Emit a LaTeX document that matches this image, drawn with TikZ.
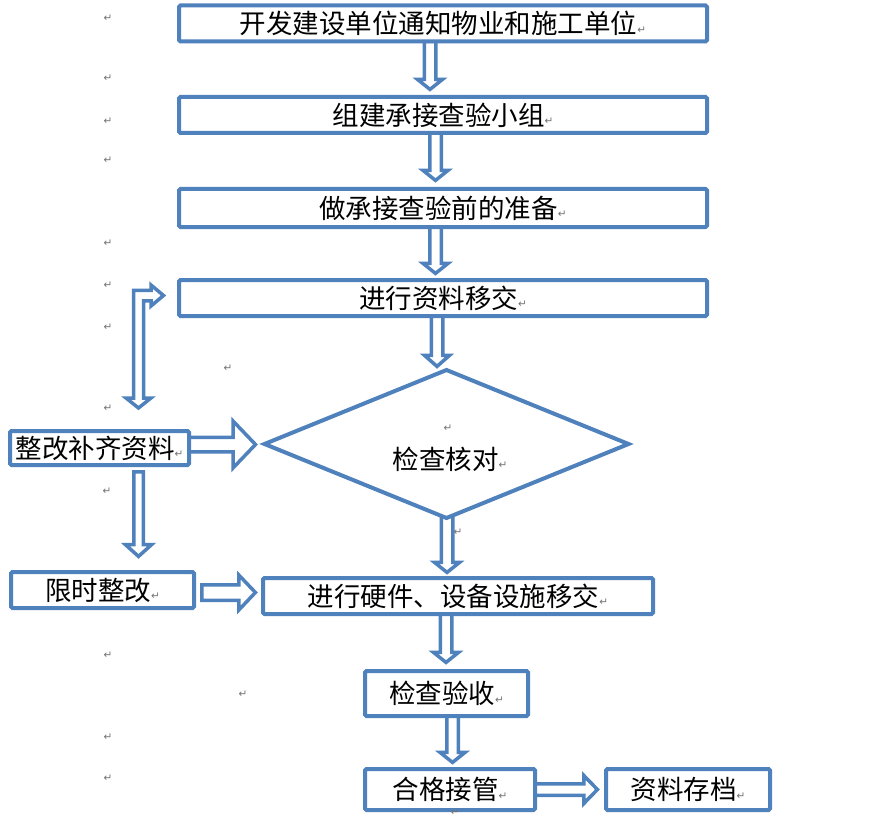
\documentclass[tikz,border=0pt]{standalone}
\usepackage{fontspec}
\newfontfamily\cjk{Noto Sans CJK SC}
\newfontfamily\symf{DejaVu Sans}
\usetikzlibrary{shapes.geometric,calc}
\definecolor{bl}{HTML}{4F81BD}
\newcommand\ret{{\symf\fontsize{10.5}{10.5}\selectfont\raisebox{0.5pt}{\textcolor{black!55}{↵}}}}
\pgfdeclarelayer{bg}\pgfsetlayers{bg,main}
% vertical block arrow: #1 start, #2 target, #3 gap, #4 shaft half, #5 head half, #6 head length
\newcommand\varr[6]{\draw[blk] let \p1=#1, \p2=#2 in
 (\x1-#4pt,\y1) -- (\x1-#4pt,\y2+#3pt+#6pt) -- (\x1-#5pt,\y2+#3pt+#6pt) -- (\x1,\y2+#3pt)
 -- (\x1+#5pt,\y2+#3pt+#6pt) -- (\x1+#4pt,\y2+#3pt+#6pt) -- (\x1+#4pt,\y1) -- cycle;}
% horizontal block arrow
\newcommand\harr[6]{\draw[blk] let \p1=#1, \p2=#2 in
 (\x1,\y1+#4pt) -- (\x2-#3pt-#6pt,\y1+#4pt) -- (\x2-#3pt-#6pt,\y1+#5pt) -- (\x2-#3pt,\y1)
 -- (\x2-#3pt-#6pt,\y1-#5pt) -- (\x2-#3pt-#6pt,\y1-#4pt) -- (\x1,\y1-#4pt) -- cycle;}
\begin{document}
\begin{tikzpicture}[x=1pt,y=-1pt,
  box/.style={draw=bl,line width=4pt,fill=white,rounded corners=1.5pt,inner sep=0pt,outer sep=0pt,
    font=\cjk\fontsize{26.5}{26.5}\selectfont},
  dia/.style={diamond,draw=bl,line width=4pt,fill=white,inner sep=0pt,outer sep=0pt,line join=miter},
  blk/.style={draw=bl,line width=3.5pt,fill=white,line join=miter},
  retn/.style={inner sep=0pt,outer sep=0pt},
  lbl/.style={inner sep=0pt,font=\cjk\fontsize{26.5}{26.5}\selectfont}]
\useasboundingbox (0,0) rectangle (882,826);
\begin{pgfonlayer}{bg}
\fill[white] (0,0) rectangle (882,826);
\end{pgfonlayer}

\node[box,minimum width=528pt,minimum height=36pt] (b1) at (443,23.5) {开发建设单位通知物业和施工单位\ret};
\node[box,minimum width=528pt,minimum height=36pt] (b2) at (443,115) {组建承接查验小组\ret};
\node[box,minimum width=528pt,minimum height=38pt] (b3) at (443,208) {做承接查验前的准备\ret};
\node[box,minimum width=528pt,minimum height=36pt] (b4) at (443,298) {进行资料移交\ret};
\node[dia,minimum width=364pt,minimum height=148pt] (d) at (446.5,444) {};
\node[lbl] (dt) at (450,459) {检查核对\ret};
\node[box,minimum width=179pt,minimum height=34pt] (b6) at (99.5,448) {整改补齐资料\ret};
\node[box,minimum width=183pt,minimum height=36pt] (b7) at (102.5,590) {限时整改\ret};
\node[box,minimum width=390pt,minimum height=36pt] (b8) at (458,596) {进行硬件、设备设施移交\ret};
\node[box,minimum width=163pt,minimum height=45pt] (b9) at (446.5,693.5) {检查验收\ret};
\node[box,minimum width=170pt,minimum height=41pt] (b10) at (450,789.5) {合格接管\ret};
\node[box,minimum width=164pt,minimum height=41pt] (b11) at (688,789.5) {资料存档\ret};

\foreach \px/\py [count=\i] in {108/18,108/78,108/121,108/160,108/243,108/285,108/327,228/368,
   108/408,107/491,108/655,243/694,108/737,108/778,448/428,458/532,455/812}
  \node[retn] (r\i) at (\px,\py) {\ret};

\begin{pgfonlayer}{bg}
\varr{([xshift=-13pt]b1.south)}{(b2.north)}{7.6}{5.75}{12.5}{10}
\varr{([xshift=-7.5pt]b2.south)}{(b3.north)}{8.6}{5.75}{12.5}{10}
\varr{([xshift=-7.5pt]b3.south)}{(b4.north)}{6.6}{5.75}{12.5}{10}
\varr{([xshift=-6pt]b4.south)}{(d.north)}{3.6}{5.75}{12.5}{11}
\varr{([xshift=0.5pt,yshift=10pt]d.south)}{(b8.north)}{5.6}{5.75}{12.5}{10}
\varr{([xshift=-12pt]b8.south)}{(b9.north)}{8.6}{5.75}{12.5}{10}
\varr{([xshift=6pt]b9.south)}{(b10.north)}{6.6}{5.75}{12.5}{10}
\varr{([xshift=39pt,yshift=-6.75pt]b6.south)}{(b7.north)}{15.6}{4.75}{13}{11.7}
\harr{([yshift=3.5pt]b6.east)}{(d.west)}{9}{7.25}{23.5}{22.5}
\harr{([xshift=7.75pt,yshift=-2.5pt]b7.east)}{(b8.west)}{7.6}{7.75}{17.5}{16.6}
\harr{(b10.east)}{(b11.west)}{8.6}{5.75}{14}{13.6}
% elbow arrow
\draw[blk] (133.5,290.25) -- (151,290.25) -- (151,285) -- (163.5,295.5) -- (151,306)
  -- (151,300.75) -- (143.5,300.75) -- (143.5,398) -- (151,398) -- (138.5,408)
  -- (126,398) -- (133.5,398) -- cycle;
\end{pgfonlayer}
\end{tikzpicture}
\end{document}
